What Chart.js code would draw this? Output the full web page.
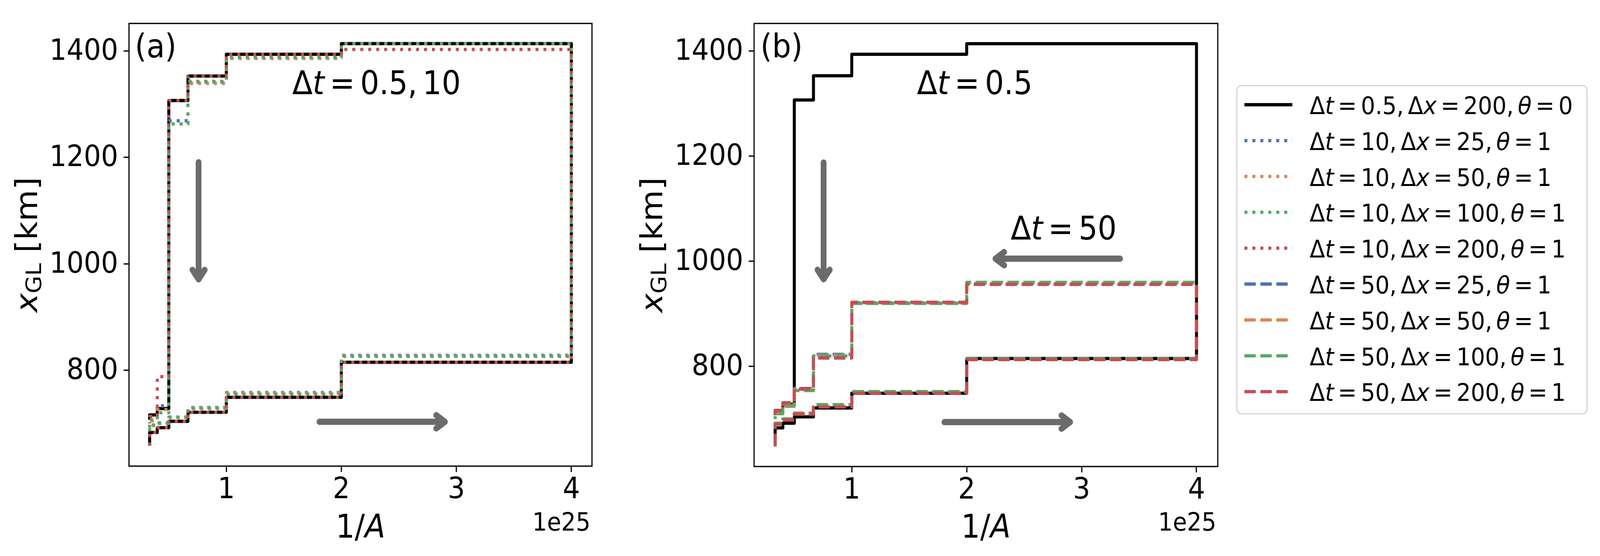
<!DOCTYPE html>
<html><head><meta charset="utf-8">
<script src="https://cdn.jsdelivr.net/npm/chart.js@4"></script>
<style>
html,body{margin:0;padding:0;background:#fff;overflow:hidden;}
#wrap{position:relative;background:#fff;overflow:hidden;}
canvas{position:absolute;top:0;}
</style></head><body>
<div id="wrap">
<canvas id="ca" width="1700" height="1423"></canvas>
<canvas id="cb" width="2741" height="1423"></canvas>
</div>
<script>
// ---------------- DATA ----------------
// x path in units of 1e25 (1/A): advance (left->right) then retreat (right->left)
const invA = [1/3, 1/3, 0.4, 0.5, 2/3, 1, 2, 4, 2, 1, 2/3, 0.5, 0.4, 1/3];
// grounding-line position x_GL [km] along the path
const xgl_dt05_dx200 = [658, 683, 692, 704, 721, 749, 815, 1414, 1394, 1353, 1307, 728, 716, 707];
// dt = 10 (panel a)
const xgl_dt10_dx25  = [685, 697, 701, 712, 730, 758, 828, 1414, 1388, 1341, 1269, 733, 707, 693];
const xgl_dt10_dx50  = [685, 697, 700, 712, 729, 757, 827, 1414, 1386, 1339, 1263, 726, 705, 692];
const xgl_dt10_dx100 = [685, 696, 700, 711, 728, 755, 826, 1414, 1388, 1343, 1263, 720, 707, 692];
const xgl_dt10_dx200 = [658, 683, 692, 704, 721, 749, 815, 1403, 1394, 1353, 1307, 788, 713, 700];
// dt = 50 (panel b)
const xgl_dt50_dx25  = [648, 692, 700, 711, 727, 752, 814, 958, 921, 823, 758, 726, 710, 700];
const xgl_dt50_dx50  = [648, 692, 700, 711, 727, 752, 814, 958, 920, 821, 756, 724, 710, 700];
const xgl_dt50_dx100 = [648, 692, 700, 710, 727, 752, 815, 960, 920, 820, 754, 726, 710, 700];
const xgl_dt50_dx200 = [648, 690, 698, 709, 723, 749, 813, 956, 922, 816, 757, 731, 716, 703];

const xTicks = [1, 2, 3, 4];
const yTicks = [800, 1000, 1200, 1400];
const legendLabels = [
  '$\\Delta t = 0.5, \\Delta x = 200, \\theta = 0$',
  '$\\Delta t = 10, \\Delta x = 25, \\theta = 1$',
  '$\\Delta t = 10, \\Delta x = 50, \\theta = 1$',
  '$\\Delta t = 10, \\Delta x = 100, \\theta = 1$',
  '$\\Delta t = 10, \\Delta x = 200, \\theta = 1$',
  '$\\Delta t = 50, \\Delta x = 25, \\theta = 1$',
  '$\\Delta t = 50, \\Delta x = 50, \\theta = 1$',
  '$\\Delta t = 50, \\Delta x = 100, \\theta = 1$',
  '$\\Delta t = 50, \\Delta x = 200, \\theta = 1$'
];

// ---------------- LAYOUT (design px, 4441 x 1423) ----------------
const W0 = 4441, H0 = 1423;
const sx = (window.innerWidth || W0) / W0, sy = (window.innerHeight || H0) / H0;
const wrap = document.getElementById('wrap');
wrap.style.width = (W0 * sx) + 'px'; wrap.style.height = (H0 * sy) + 'px';
const cA = document.getElementById('ca'), cB = document.getElementById('cb');
cA.style.left = '0px'; cA.style.width = (1700 * sx) + 'px'; cA.style.height = (1423 * sy) + 'px';
cB.style.left = (1700 * sx) + 'px'; cB.style.width = (2741 * sx) + 'px'; cB.style.height = (1423 * sy) + 'px';

// ---------------- STYLE ----------------
const FONT = '"DejaVu Sans"';
const C_BLUE = '#4C72B0', C_ORANGE = '#DD8452', C_GREEN = '#55A868', C_RED = '#C44E52';
const ARROW_COLOR = '#6b6b6b';
const LW = 8.3;
const DOT = [8.3, 13.8];
const DASH = [31.5, 12.8];

function fontStr(size, italic) { return (italic ? 'italic ' : '') + size + 'px ' + FONT; }

// tiny mathtext renderer
function mathRuns(src) {
  const runs = []; let inMath = false; let i = 0; const sp = 0.18;
  while (i < src.length) {
    const c = src[i];
    if (c === '$') { inMath = !inMath; i++; continue; }
    if (!inMath) { runs.push({ t: c, it: false, sz: 1 }); i++; continue; }
    if (c === ' ') { i++; continue; }
    if (c === '\\') {
      const m = src.slice(i + 1).match(/^[a-zA-Z]+/)[0];
      i += 1 + m.length;
      if (m === 'Delta') runs.push({ t: '\u0394', it: false, sz: 1 });
      else if (m === 'theta') runs.push({ t: '\u03b8', it: true, sz: 1 });
      continue;
    }
    if (c === '_') {
      const j = src.indexOf('}', i);
      const inner = src.slice(i + 2, j).replace('\\rm', '').trim();
      runs.push({ t: inner, it: false, sz: 0.7, dy: 0.135 });
      i = j + 1; continue;
    }
    if (c === '=') { runs.push({ space: sp }); runs.push({ t: '=', it: false, sz: 1 }); runs.push({ space: sp }); i++; continue; }
    if (c === ',') { runs.push({ t: ',', it: false, sz: 1 }); runs.push({ space: sp }); i++; continue; }
    if (/[a-zA-Z]/.test(c)) { runs.push({ t: c, it: true, sz: 1 }); i++; continue; }
    runs.push({ t: c, it: false, sz: 1 }); i++;
  }
  return runs;
}
function drawMath(ctx, src, x, y, size, align) {
  const runs = mathRuns(src); let total = 0;
  for (const r of runs) {
    if (r.space !== undefined) r.w = r.space * size;
    else { ctx.font = fontStr(r.sz * size, r.it); r.w = ctx.measureText(r.t).width; }
    total += r.w;
  }
  let cx = align === 'center' ? x - total / 2 : (align === 'right' ? x - total : x);
  ctx.textAlign = 'left'; ctx.textBaseline = 'alphabetic';
  for (const r of runs) {
    if (r.t !== undefined) { ctx.font = fontStr(r.sz * size, r.it); ctx.fillText(r.t, cx, y + (r.dy || 0) * size); }
    cx += r.w;
  }
}
function drawArrow(ctx, x1, y1, x2, y2) {
  const L = 24, W = 17;
  const dx = x2 - x1, dy = y2 - y1, len = Math.hypot(dx, dy), ux = dx / len, uy = dy / len, px = -uy, py = ux;
  ctx.save(); ctx.strokeStyle = ARROW_COLOR; ctx.lineWidth = 16; ctx.lineCap = 'round'; ctx.lineJoin = 'round';
  ctx.setLineDash([]);
  ctx.beginPath(); ctx.moveTo(x1, y1); ctx.lineTo(x2, y2); ctx.stroke();
  ctx.beginPath(); ctx.moveTo(x2 - L * ux + W * px, y2 - L * uy + W * py); ctx.lineTo(x2, y2);
  ctx.lineTo(x2 - L * ux - W * px, y2 - L * uy - W * py); ctx.stroke();
  ctx.restore();
}

function ds(label, ys, color, dash, order, width) {
  return {
    label, data: invA.map((x, i) => ({ x, y: ys[i] })),
    borderColor: color, backgroundColor: color, borderWidth: width || LW, borderDash: dash,
    stepped: 'before', pointRadius: 0, pointHoverRadius: 0, fill: false, tension: 0,
    borderCapStyle: 'butt', borderJoinStyle: 'round', order
  };
}

function annotPlugin(cfg) {
  return {
    id: 'annot',
    afterDatasetsDraw(chart) {
      const ctx = chart.ctx, xs = chart.scales.x, ys = chart.scales.y, ca = chart.chartArea;
      ctx.save();
      ctx.setLineDash([]);
      ctx.strokeStyle = '#000'; ctx.lineWidth = 3.3;
      ctx.strokeRect(ca.left, ca.top, ca.right - ca.left, ca.bottom - ca.top);
      for (const a of cfg.arrows) drawArrow(ctx, xs.getPixelForValue(a[0]), ys.getPixelForValue(a[1]), xs.getPixelForValue(a[2]), ys.getPixelForValue(a[3]));
      ctx.fillStyle = '#000';
      for (const t of cfg.texts) drawMath(ctx, t.s, xs.getPixelForValue(t.x), ys.getPixelForValue(t.y), t.size, 'left');
      drawMath(ctx, '$1/A$', (ca.left + ca.right) / 2, cfg.xlabelBaseline, 83, 'center');
      ctx.save(); ctx.translate(ca.left - cfg.ylabelGap, (ca.top + ca.bottom) / 2); ctx.rotate(-Math.PI / 2);
      drawMath(ctx, '$x_{\\rm GL}$ [km]', 0, 0, 83, 'center'); ctx.restore();
      ctx.font = fontStr(64); ctx.textAlign = 'right'; ctx.textBaseline = 'alphabetic';
      ctx.fillText('1e25', ca.right - 4, cfg.offsetBaseline);
      ctx.restore();
    }
  };
}

const legendStyles = [
  { c: '#000', d: [], w: 8.5 },
  { c: C_BLUE, d: DOT }, { c: C_ORANGE, d: DOT }, { c: C_GREEN, d: DOT }, { c: C_RED, d: DOT },
  { c: C_BLUE, d: DASH }, { c: C_ORANGE, d: DASH }, { c: C_GREEN, d: DASH }, { c: C_RED, d: DASH }
];
const LEG = { bx: 1733, by: 219, bw: 972, bh: 840, r: 12, hx1: 1754, hx2: 1887, tx: 1935, row0: 268, step: 91.8 };
const legendPlugin = {
  id: 'legendBox',
  afterDraw(chart) {
    const ctx = chart.ctx;
    const { bx, by, bw, bh, r } = LEG;
    ctx.save();
    ctx.beginPath();
    ctx.moveTo(bx + r, by); ctx.lineTo(bx + bw - r, by); ctx.arcTo(bx + bw, by, bx + bw, by + r, r);
    ctx.lineTo(bx + bw, by + bh - r); ctx.arcTo(bx + bw, by + bh, bx + bw - r, by + bh, r);
    ctx.lineTo(bx + r, by + bh); ctx.arcTo(bx, by + bh, bx, by + bh - r, r);
    ctx.lineTo(bx, by + r); ctx.arcTo(bx, by, bx + r, by, r); ctx.closePath();
    ctx.fillStyle = '#fff'; ctx.fill();
    ctx.strokeStyle = '#d6d6d6'; ctx.lineWidth = 3.5; ctx.setLineDash([]); ctx.stroke();
    for (let i = 0; i < legendLabels.length; i++) {
      const yc = LEG.row0 + i * LEG.step; const st = legendStyles[i];
      ctx.strokeStyle = st.c; ctx.lineWidth = st.w || LW; ctx.lineCap = 'butt'; ctx.setLineDash(st.d);
      ctx.beginPath(); ctx.moveTo(LEG.hx1, yc); ctx.lineTo(LEG.hx2, yc); ctx.stroke();
      ctx.setLineDash([]); ctx.fillStyle = '#000';
      drawMath(ctx, legendLabels[i], LEG.tx, yc + 24, 62.5, 'left');
    }
    ctx.restore();
  }
};

function scalesCfg(xmin, xmax, ymin, ymax, yW, xH) {
  const tickFont = { family: 'DejaVu Sans', size: 75, lineHeight: 1.2 };
  const grid = { display: true, drawOnChartArea: false, drawTicks: true, tickLength: 15, tickWidth: 3.3, tickColor: '#000' };
  return {
    x: {
      type: 'linear', min: xmin, max: xmax,
      afterBuildTicks: s => { s.ticks = xTicks.map(v => ({ value: v })); },
      afterFit: s => { s.height = xH; },
      ticks: { font: tickFont, color: '#000', padding: 3, maxRotation: 0, autoSkip: false, callback: v => String(v) },
      grid, border: { display: false }
    },
    y: {
      type: 'linear', min: ymin, max: ymax,
      afterBuildTicks: s => { s.ticks = yTicks.map(v => ({ value: v })); },
      afterFit: s => { s.width = yW; },
      ticks: { font: tickFont, color: '#000', padding: 15, labelOffset: 3, autoSkip: false, callback: v => String(v) },
      grid, border: { display: false }
    }
  };
}

const baseOpts = (padR, sc) => ({
  responsive: false, animation: false, devicePixelRatio: 1, events: [],
  layout: { padding: { top: 39, right: padR, left: 0, bottom: 0 } },
  plugins: { legend: { display: false }, tooltip: { enabled: false } },
  scales: sc
});

new Chart(cA, {
  type: 'line',
  data: { datasets: [
    ds('dt0.5 dx200', xgl_dt05_dx200, '#000', [], 0),
    ds('dt10 dx25', xgl_dt10_dx25, C_BLUE, DOT, -1),
    ds('dt10 dx50', xgl_dt10_dx50, C_ORANGE, DOT, -2),
    ds('dt10 dx100', xgl_dt10_dx100, C_GREEN, DOT, -3),
    ds('dt10 dx200', xgl_dt10_dx200, C_RED, DOT, -4)
  ] },
  options: baseOpts(57, scalesCfg(0.154, 4.179, 619.7, 1451.9, 358, 230)),
  plugins: [annotPlugin({
    texts: [
      { s: '(a)', x: 0.205, y: 1387.7, size: 83 },
      { s: '$\\Delta t = 0.5, 10$', x: 1.573, y: 1319, size: 83 }
    ],
    arrows: [[0.759, 1191, 0.759, 971], [1.81, 703, 2.90, 703]],
    xlabelBaseline: 1376, ylabelGap: 255, offsetBaseline: 1358
  })]
});

new Chart(cB, {
  type: 'line',
  data: { datasets: [
    ds('dt0.5 dx200', xgl_dt05_dx200, '#000', [], 0),
    ds('dt50 dx25', xgl_dt50_dx25, C_BLUE, DASH, -1),
    ds('dt50 dx50', xgl_dt50_dx50, C_ORANGE, DASH, -2),
    ds('dt50 dx100', xgl_dt50_dx100, C_GREEN, DASH, -3),
    ds('dt50 dx200', xgl_dt50_dx200, C_RED, DASH, -4)
  ] },
  options: baseOpts(1061, scalesCfg(0.150, 4.185, 609.5, 1452.6, 393, 229)),
  plugins: [annotPlugin({
    texts: [
      { s: '(b)', x: 0.205, y: 1387.6, size: 83 },
      { s: '$\\Delta t = 0.5$', x: 1.567, y: 1318, size: 83 },
      { s: '$\\Delta t = 50$', x: 2.382, y: 1041.6, size: 83 }
    ],
    arrows: [[0.755, 1188, 0.755, 966], [3.335, 1005, 2.251, 1005], [1.806, 694, 2.90, 694]],
    xlabelBaseline: 1376, ylabelGap: 255, offsetBaseline: 1358
  }), legendPlugin]
});
</script>
</body></html>
